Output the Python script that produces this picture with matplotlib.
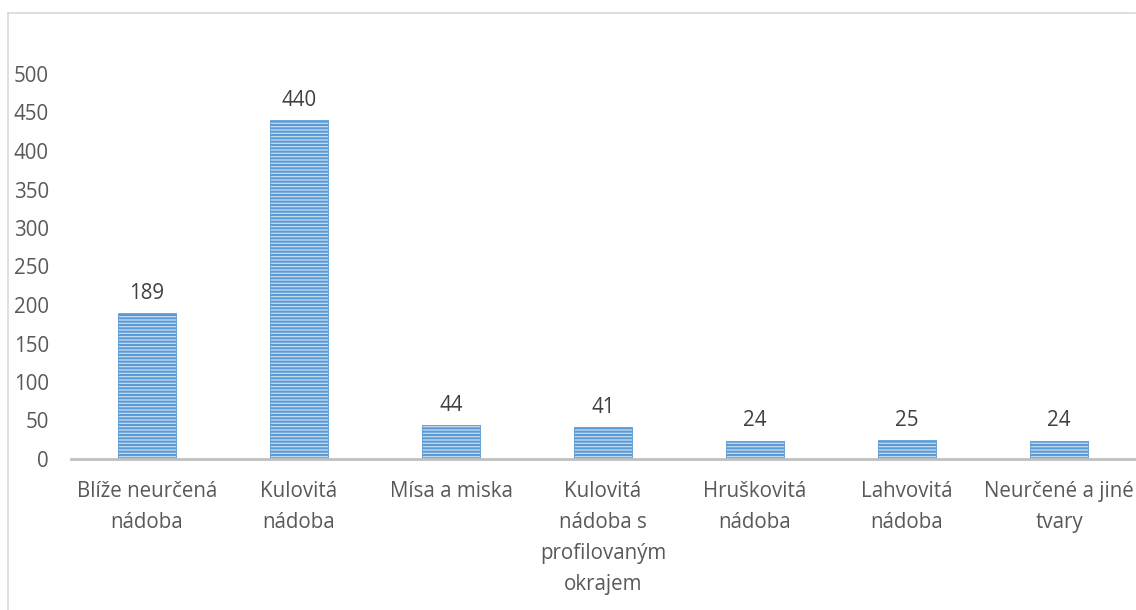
import matplotlib.pyplot as plt
from matplotlib.lines import Line2D

# kategorie a pocty
kategorie = ["Blíže neurčená\nnádoba", "Kulovitá\nnádoba", "Mísa a miska",
             "Kulovitá\nnádoba s\nprofilovaným\nokrajem", "Hruškovitá\nnádoba",
             "Lahvovitá\nnádoba", "Neurčené a jiné\ntvary"]
pocty = [189, 440, 44, 41, 24, 25, 24]
yticky = [0, 50, 100, 150, 200, 250, 300, 350, 400, 450, 500]

plt.rcParams['font.family'] = ['Open Sans', 'DejaVu Sans']
plt.rcParams['hatch.linewidth'] = 1.5

W, H = 1136, 610
fig = plt.figure(figsize=(W / 100, H / 100), dpi=100)
ax = fig.add_axes([71 / W, 1 - 459 / H, (1135 - 71) / W, (459 - 74) / H])

fs = 14.8
x = range(len(pocty))
# pruhovana vypln: svetly podklad, modre vodorovne linky
bars = ax.bar(x, pocty, width=0.38, color='#C6DCF1', edgecolor='#5B9BD5',
              linewidth=0.6, hatch='-----')
for xi, v in zip(x, pocty):
    ax.text(xi, v + 12, str(v), ha='center', va='bottom', fontsize=fs,
            color='#404040')

ax.set_xlim(-0.5, len(pocty) - 0.5)
ax.set_ylim(0, 500)
ax.set_yticks(yticky)
ax.set_xticks(list(x))
ax.set_xticklabels(kategorie, fontsize=fs, color='#595959', linespacing=1.62,
                   va='top')
ax.tick_params(axis='y', length=0, pad=16, labelsize=fs, labelcolor='#595959')
ax.tick_params(axis='x', length=0, pad=16)
for s in ['top', 'right', 'left']:
    ax.spines[s].set_visible(False)
ax.spines['bottom'].set_color('#BFBFBF')
ax.spines['bottom'].set_linewidth(2)

# ramecek grafu
fig.add_artist(Line2D([8 / W, 1135 / W], [1 - 13 / H, 1 - 13 / H],
                      color='#D9D9D9', lw=1.2, transform=fig.transFigure))
fig.add_artist(Line2D([8 / W, 8 / W], [1 - 13 / H, 0], color='#D9D9D9',
                      lw=1.2, transform=fig.transFigure))

fig.savefig('out.png', dpi=100)
